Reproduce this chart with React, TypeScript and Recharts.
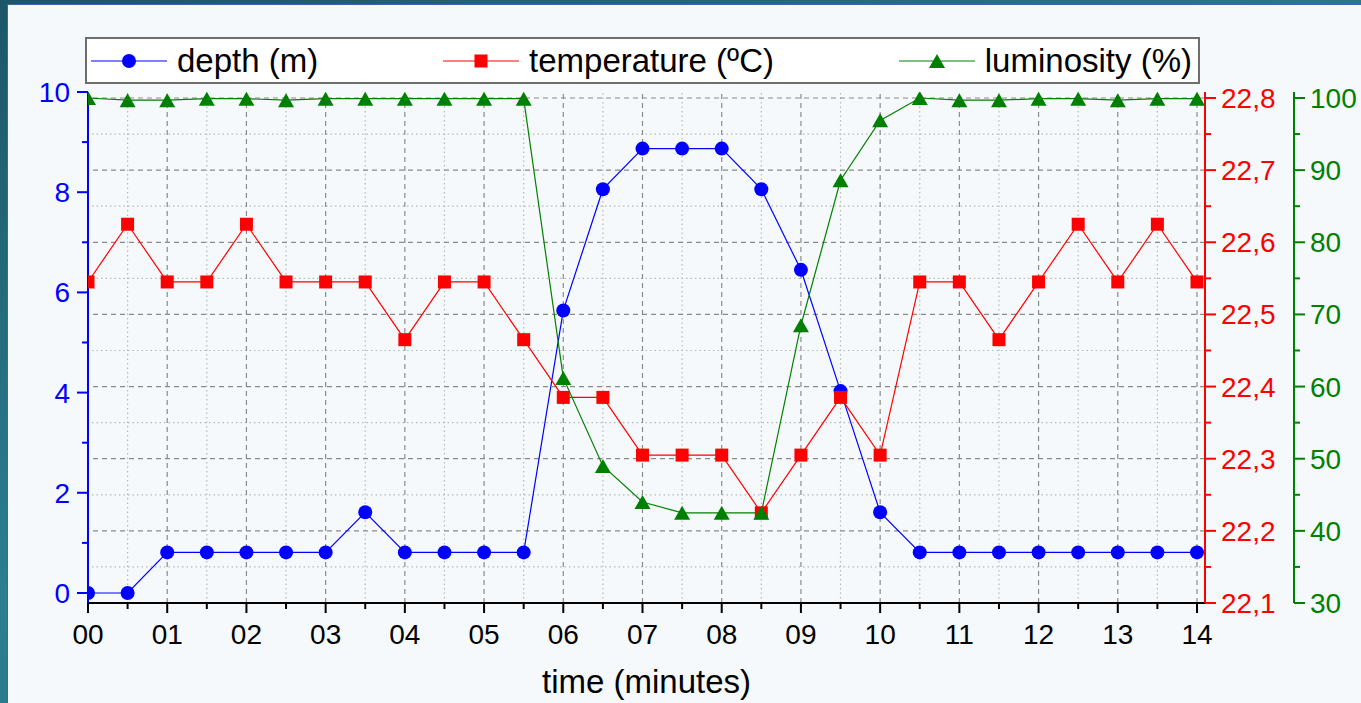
import React from 'react';
import { LineChart, Line, XAxis, YAxis, ReferenceLine, Legend } from 'recharts';

const FONT = '"Liberation Sans", Arial, Helvetica, sans-serif';
const TICK_FS = 28;

const timeMinutes = [0, 0.5, 1, 1.5, 2, 2.5, 3, 3.5, 4, 4.5, 5, 5.5, 6, 6.5, 7, 7.5, 8, 8.5, 9, 9.5, 10, 10.5, 11, 11.5, 12, 12.5, 13, 13.5, 14];
const depthM = [0, 0, 0.81, 0.81, 0.81, 0.81, 0.81, 1.61, 0.81, 0.81, 0.81, 0.81, 5.64, 8.06, 8.87, 8.87, 8.87, 8.06, 6.45, 4.03, 1.61, 0.81, 0.81, 0.81, 0.81, 0.81, 0.81, 0.81, 0.81];
const temperatureC = [22.545, 22.625, 22.545, 22.545, 22.625, 22.545, 22.545, 22.545, 22.465, 22.545, 22.545, 22.465, 22.385, 22.385, 22.305, 22.305, 22.305, 22.225, 22.305, 22.385, 22.305, 22.545, 22.545, 22.465, 22.545, 22.625, 22.545, 22.625, 22.545];
const luminosityPct = [100, 99.7, 99.7, 99.9, 99.9, 99.7, 99.9, 99.9, 99.9, 99.9, 99.9, 99.9, 61.2, 49.0, 44.0, 42.5, 42.5, 42.5, 68.5, 88.6, 96.9, 100, 99.7, 99.7, 99.9, 99.9, 99.7, 99.9, 99.9];

const xTicks = [0, 0.5, 1, 1.5, 2, 2.5, 3, 3.5, 4, 4.5, 5, 5.5, 6, 6.5, 7, 7.5, 8, 8.5, 9, 9.5, 10, 10.5, 11, 11.5, 12, 12.5, 13, 13.5, 14];
const depthTicks = [0, 1, 2, 3, 4, 5, 6, 7, 8, 9, 10];
const tempTicks = [22.1, 22.15, 22.2, 22.25, 22.3, 22.35, 22.4, 22.45, 22.5, 22.55, 22.6, 22.65, 22.7, 22.75, 22.8];
const lumTicks = [30, 35, 40, 45, 50, 55, 60, 65, 70, 75, 80, 85, 90, 95, 100];

const xMajorGrid = [1, 2, 3, 4, 5, 6, 7, 8, 9, 10, 11, 12, 13, 14];
const xMinorGrid = [0.5, 1.5, 2.5, 3.5, 4.5, 5.5, 6.5, 7.5, 8.5, 9.5, 10.5, 11.5, 12.5, 13.5];
const tempMajorGrid = [22.2, 22.3, 22.4, 22.5, 22.6, 22.7, 22.8];
const tempMinorGrid = [22.15, 22.25, 22.35, 22.45, 22.55, 22.65, 22.75];

const seriesKeys = ['depth', 'temperature', 'luminosity'];
const seriesNames = ['depth (m)', 'temperature (ºC)', 'luminosity (%)'];
const seriesColors = ['#0000ff', '#ff0000', '#008000'];
const seriesMarkers = ['circle', 'square', 'triangle'];
const seriesAxes = ['a_depth', 'b_temp', 'c_lum'];

const data = timeMinutes.map((t, i) => ({
  t,
  depth: depthM[i],
  temperature: temperatureC[i],
  luminosity: luminosityPct[i],
}));

function Marker({ kind, cx, cy, color }: { kind: string; cx: number; cy: number; color: string }) {
  if (kind === 'circle') return <circle cx={cx} cy={cy} r={7} fill={color} />;
  if (kind === 'square') return <rect x={cx - 6.5} y={cy - 6.5} width={13} height={13} fill={color} />;
  return <path d={`M${cx},${cy - 7}L${cx + 8},${cy + 7}L${cx - 8},${cy + 7}Z`} fill={color} />;
}

const isMajor = (v: number, step: number) => Math.abs(v / step - Math.round(v / step)) < 1e-6;

function XTick(props: any) {
  const { x, y, payload } = props;
  const v = payload.value;
  const major = isMajor(v, 1);
  return (
    <g>
      <line x1={x} x2={x} y1={y} y2={y + (major ? 10 : 6)} stroke="#000" strokeWidth={2} />
      {major && (
        <text x={x} y={y + 41} textAnchor="middle" fontSize={TICK_FS} fontFamily={FONT} fill="#000">
          {String(Math.round(v)).padStart(2, '0')}
        </text>
      )}
    </g>
  );
}

function DepthTick(props: any) {
  const { x, y, payload } = props;
  const v = payload.value;
  const major = isMajor(v, 2);
  return (
    <g>
      <line x1={x} x2={x - (major ? 11 : 6)} y1={y} y2={y} stroke="#0000ff" strokeWidth={2} />
      {major && (
        <text x={x - 18} y={y + 10} textAnchor="end" fontSize={TICK_FS} fontFamily={FONT} fill="#0000ff">
          {String(v)}
        </text>
      )}
    </g>
  );
}

function TempTick(props: any) {
  const { x, y, payload } = props;
  const v = payload.value;
  const major = isMajor(v, 0.1);
  return (
    <g>
      <line x1={x} x2={x + (major ? 11 : 6)} y1={y} y2={y} stroke="#ff0000" strokeWidth={2} />
      {major && (
        <text x={x + 16} y={y + 10} textAnchor="start" fontSize={TICK_FS} fontFamily={FONT} fill="#ff0000">
          {v.toFixed(1).replace('.', ',')}
        </text>
      )}
    </g>
  );
}

function LumTick(props: any) {
  const { x, y, payload } = props;
  const v = payload.value;
  const major = isMajor(v, 10);
  return (
    <g>
      <line x1={x} x2={x + (major ? 11 : 6)} y1={y} y2={y} stroke="#008000" strokeWidth={2} />
      {major && (
        <text x={x + 16} y={y + 10} textAnchor="start" fontSize={TICK_FS} fontFamily={FONT} fill="#008000">
          {String(v)}
        </text>
      )}
    </g>
  );
}

function LegendContent(props: any) {
  const payload = [...(props.payload || [])].sort(
    (a: any, b: any) => seriesKeys.indexOf(a.dataKey) - seriesKeys.indexOf(b.dataKey)
  );
  return (
    <div
      style={{
        width: '100%',
        height: '100%',
        boxSizing: 'border-box',
        background: '#ffffff',
        border: '2px solid #6e6e6e',
        display: 'flex',
        alignItems: 'center',
        justifyContent: 'space-between',
        padding: '0 6px 0 4px',
      }}
    >
      {payload.map((entry: any) => {
        const idx = seriesKeys.indexOf(entry.dataKey);
        const color = seriesColors[idx];
        return (
          <div key={entry.dataKey} style={{ display: 'flex', alignItems: 'center' }}>
            <svg width={76} height={20} style={{ display: 'block' }}>
              <line x1={0} x2={76} y1={10} y2={10} stroke={color} strokeWidth={1} />
              <Marker kind={seriesMarkers[idx]} cx={38} cy={10} color={color} />
            </svg>
            <span
              style={{
                marginLeft: 10,
                fontSize: 33,
                lineHeight: 1,
                fontFamily: FONT,
                color: '#000',
                whiteSpace: 'nowrap',
              }}
            >
              {seriesNames[idx]}
            </span>
          </div>
        );
      })}
    </div>
  );
}

export default function App() {
  return (
    <div
      style={{
        position: 'absolute',
        left: 0,
        top: 0,
        width: 1361,
        height: 703,
        overflow: 'hidden',
        background: 'linear-gradient(160deg, #1c5668 0%, #2c7f8f 50%, #236879 100%)',
      }}
    >
      <div
        style={{
          position: 'absolute',
          left: 7,
          top: 4,
          width: 1354,
          height: 699,
          boxSizing: 'border-box',
          background: '#f6f9fb',
          borderLeft: '1px solid #4262b0',
          borderTop: '1px solid #4262b0',
        }}
      />
      <div style={{ position: 'absolute', left: 0, top: 0 }}>
        <LineChart width={1361} height={703} data={data} margin={{ top: 92, right: 0, bottom: 10, left: 8 }}>
          {xMinorGrid.map((v) => (
            <ReferenceLine key={`xm${v}`} x={v} yAxisId="a_depth" stroke="#b8b8b8" strokeWidth={1.2} strokeDasharray="1.5 3" zIndex={-100} />
          ))}
          {tempMinorGrid.map((v) => (
            <ReferenceLine key={`ym${v}`} y={v} yAxisId="b_temp" stroke="#b8b8b8" strokeWidth={1.2} strokeDasharray="1.5 3" zIndex={-100} />
          ))}
          {xMajorGrid.map((v) => (
            <ReferenceLine key={`xM${v}`} x={v} yAxisId="a_depth" stroke="#8a8a8a" strokeWidth={1.2} strokeDasharray="5 4" zIndex={-90} />
          ))}
          {tempMajorGrid.map((v) => (
            <ReferenceLine key={`yM${v}`} y={v} yAxisId="b_temp" stroke="#8a8a8a" strokeWidth={1.2} strokeDasharray="5 4" zIndex={-90} />
          ))}
          <XAxis
            dataKey="t"
            type="number"
            domain={[0, 14.101]}
            allowDataOverflow
            ticks={xTicks}
            interval={0}
            height={90}
            tickSize={0}
            tickMargin={0}
            tickLine={false}
            tick={<XTick />}
            axisLine={{ stroke: '#000', strokeWidth: 2 }}
            label={{ value: 'time (minutes)', position: 'insideBottom', offset: 0, fill: '#000', fontSize: 33, fontFamily: FONT }}
          />
          <YAxis
            yAxisId="a_depth"
            orientation="left"
            type="number"
            domain={[-0.2, 10]}
            allowDataOverflow
            ticks={depthTicks}
            interval={0}
            width={80}
            tickSize={0}
            tickMargin={0}
            tickLine={false}
            tick={<DepthTick />}
            axisLine={{ stroke: '#0000ff', strokeWidth: 2 }}
          />
          <YAxis
            yAxisId="b_temp"
            orientation="right"
            type="number"
            domain={[22.1, 22.8083]}
            allowDataOverflow
            ticks={tempTicks}
            interval={0}
            width={89}
            tickSize={0}
            tickMargin={0}
            tickLine={false}
            tick={<TempTick />}
            axisLine={{ stroke: '#ff0000', strokeWidth: 2 }}
          />
          <YAxis
            yAxisId="c_lum"
            orientation="right"
            type="number"
            domain={[30, 100.83]}
            allowDataOverflow
            ticks={lumTicks}
            interval={0}
            width={67}
            tickSize={0}
            tickMargin={0}
            tickLine={false}
            tick={<LumTick />}
            axisLine={{ stroke: '#008000', strokeWidth: 2 }}
          />
          <Legend
            verticalAlign="middle"
            align="center"
            layout="horizontal"
            wrapperStyle={{ left: 85, top: 37, width: 1115, height: 47 }}
            content={<LegendContent />}
          />
          {seriesKeys.map((key, i) => (
            <Line
              key={key}
              yAxisId={seriesAxes[i]}
              dataKey={key}
              name={seriesNames[i]}
              stroke={seriesColors[i]}
              strokeWidth={1.2}
              isAnimationActive={false}
              activeDot={false}
              dot={(p: any) => <Marker key={`${key}-${p.index}`} kind={seriesMarkers[i]} cx={p.cx} cy={p.cy} color={seriesColors[i]} />}
            />
          ))}
        </LineChart>
      </div>
    </div>
  );
}
